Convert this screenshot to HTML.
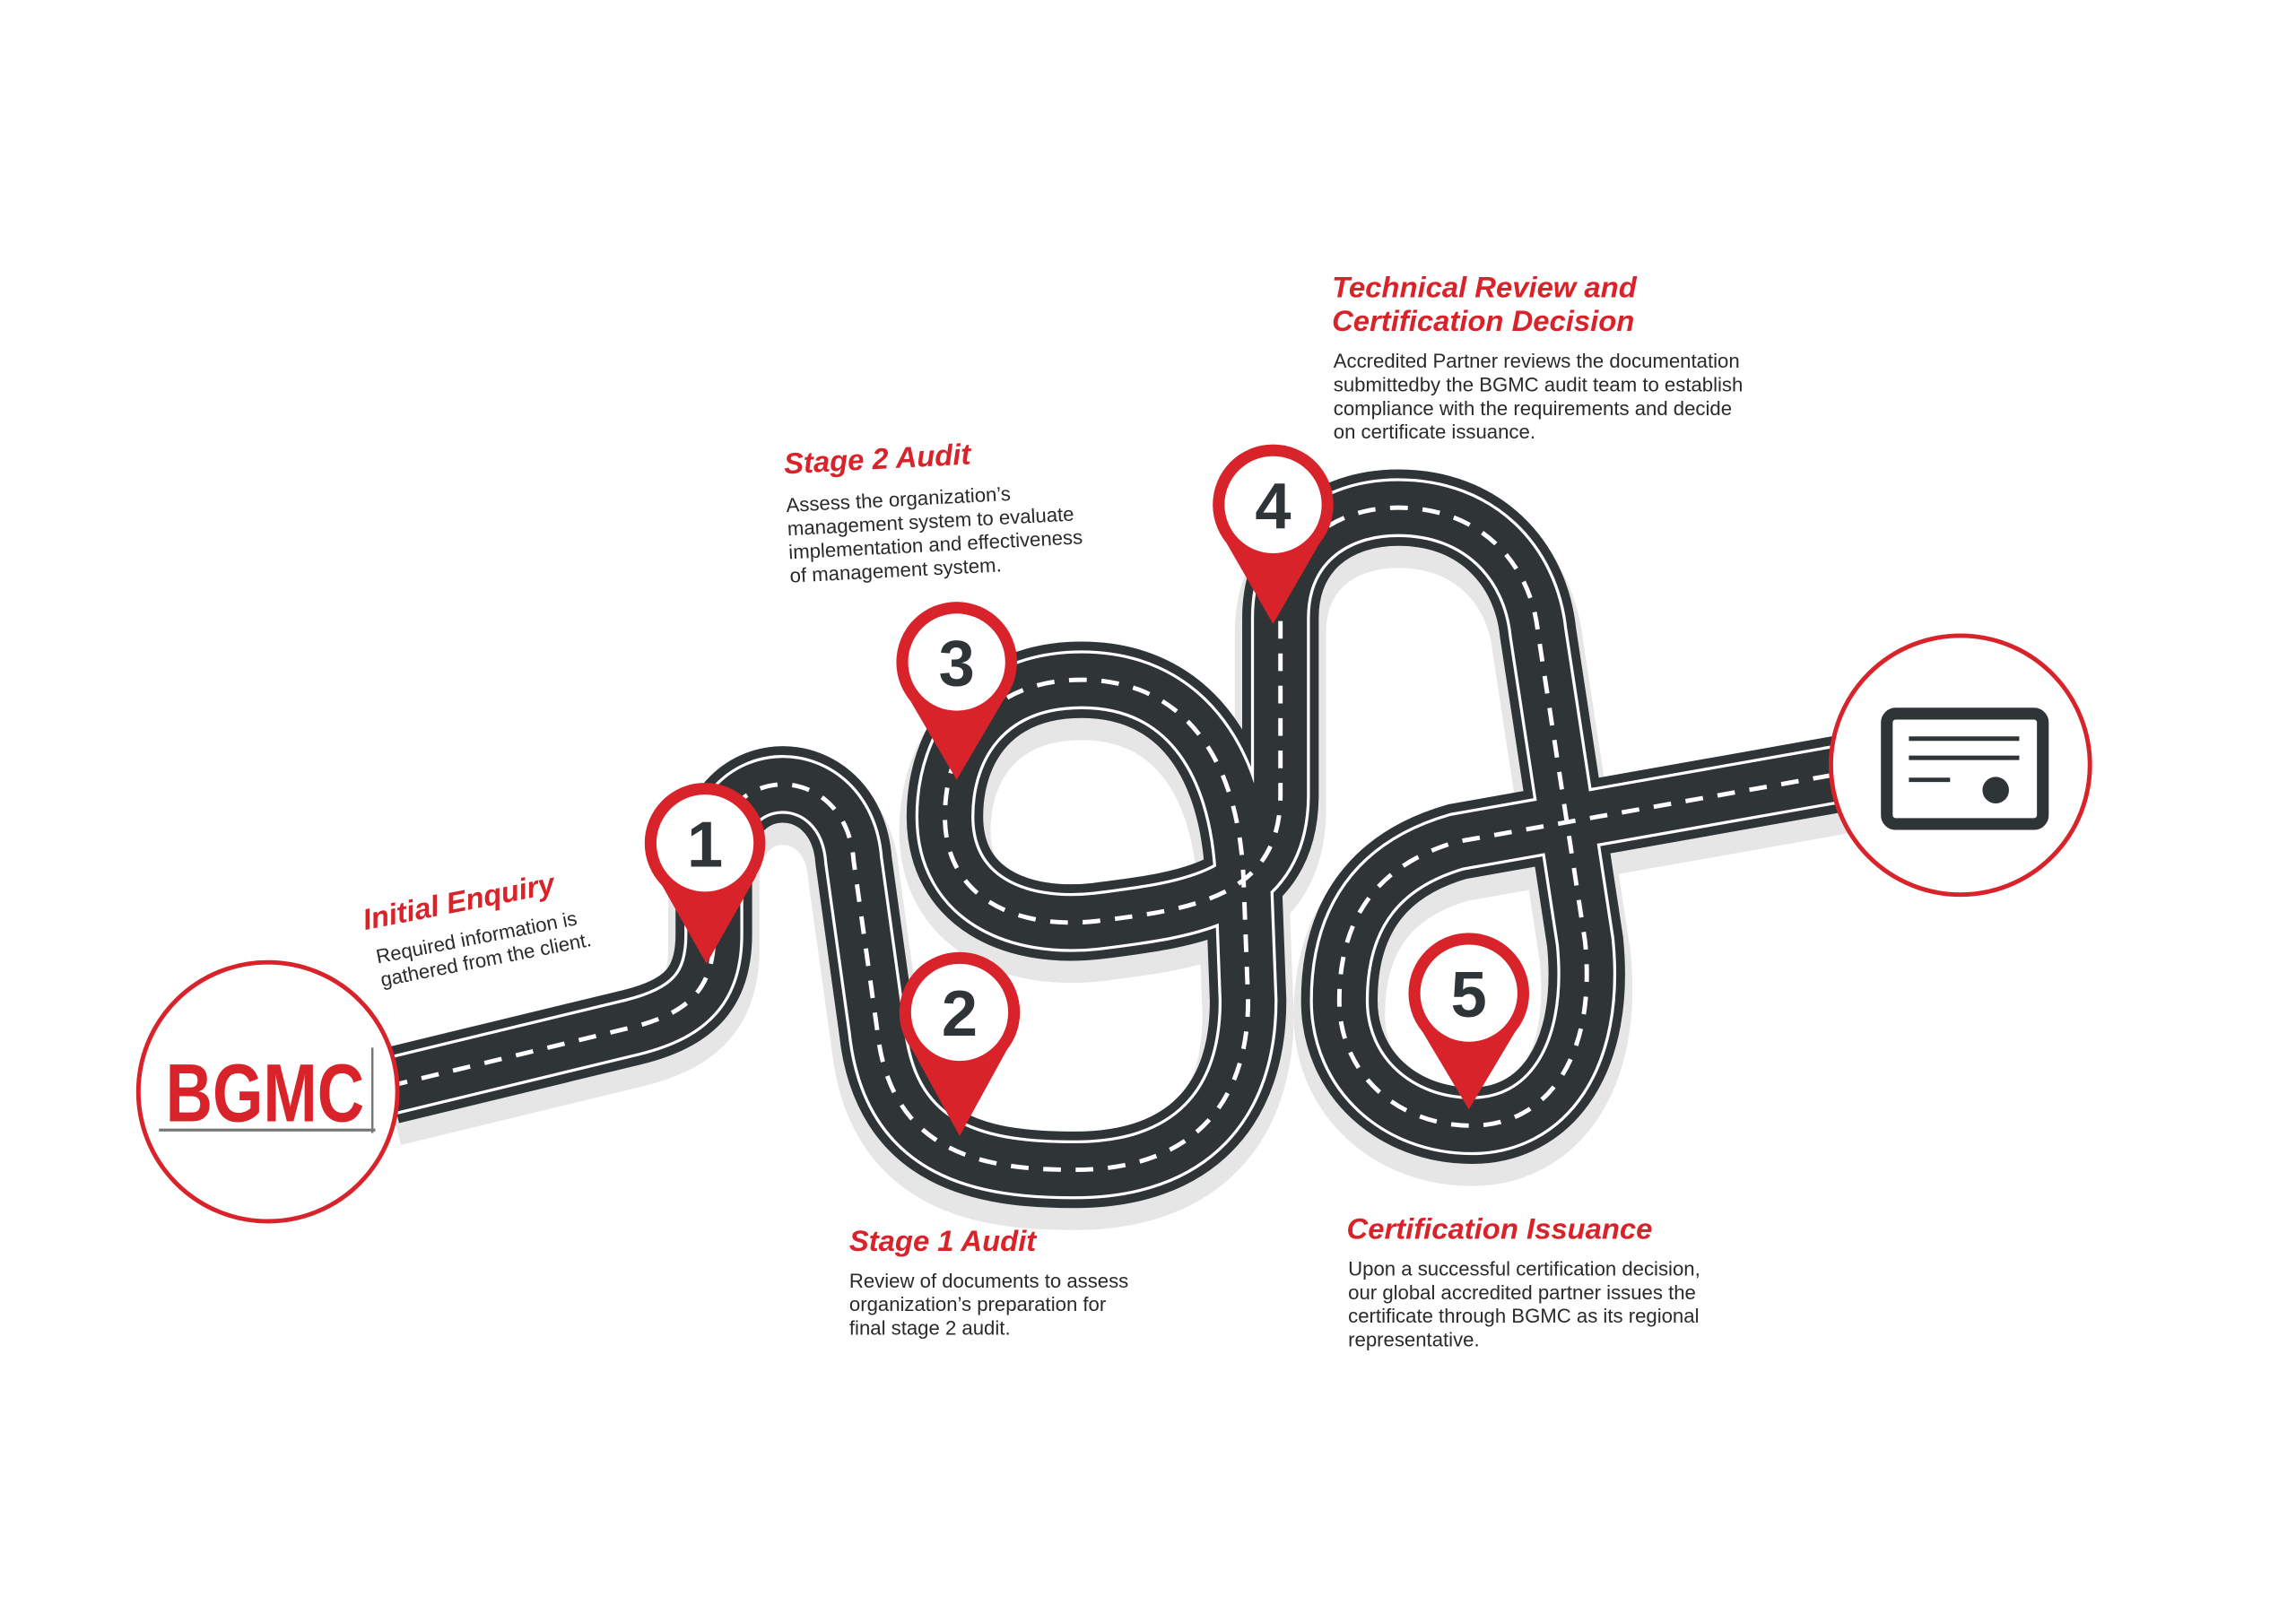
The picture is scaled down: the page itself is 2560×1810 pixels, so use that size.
<!DOCTYPE html>
<html><head><meta charset="utf-8"><style>
html,body{margin:0;padding:0;background:#fff;}
svg{display:block}
text{font-family:"Liberation Sans",sans-serif;}
.h{fill:#d8232a;font-weight:bold;font-style:italic;font-size:20px}
.b{fill:#2a2a2a;font-size:13.5px}
.n{fill:#2f3437;font-weight:bold;font-size:44px;text-anchor:middle}
</style></head><body>
<svg width="2560" height="1810" viewBox="0 0 1560 1103" xmlns="http://www.w3.org/2000/svg">
<rect width="1560" height="1103" fill="#fff"/>
<defs>
<path id="road" d="M 265 738 L 430 698 C 470 688 485 670 485 635 L 485 590 C 485 515 575 515 580 585 L 596 700 C 605 785 670 795 730 795 C 810 795 848 750 848 680 L 845 600 C 842 510 800 462 735 462 C 672 462 642 505 642 555 C 642 610 690 632 745 626 C 810 618 870 610 870 540 L 870 420 C 870 372 905 345 950 345 C 1005 345 1040 382 1045 430 L 1077 640 C 1085 720 1050 765 1000 765 C 950 765 910 730 910 680 C 910 615 945 585 990 572 L 1255 525"/>
</defs>
<use href="#road" fill="none" stroke="#e6e6e6" stroke-width="62" transform="translate(0,10)" stroke-linejoin="round"/>
<use href="#road" fill="none" stroke="#2f3437" stroke-width="52"/>
<use href="#road" fill="none" stroke="#fff" stroke-width="40"/>
<use href="#road" fill="none" stroke="#2f3437" stroke-width="36"/>
<use href="#road" fill="none" stroke="#fff" stroke-width="3" stroke-dasharray="12 10"/>

<!-- BGMC circle -->
<circle cx="182" cy="742" r="88" fill="#fff" stroke="#d8232a" stroke-width="3"/>
<text x="180" y="762" fill="#d8232a" font-weight="bold" font-size="56" text-anchor="middle" font-family="Liberation Sans Narrow, Liberation Sans, sans-serif" textLength="135" lengthAdjust="spacingAndGlyphs">BGMC</text>
<line x1="108" y1="768" x2="255" y2="768" stroke="#777" stroke-width="2"/>
<line x1="253" y1="712" x2="253" y2="770" stroke="#777" stroke-width="1.5"/>

<!-- certificate circle -->
<circle cx="1332" cy="520" r="88" fill="#fff" stroke="#d8232a" stroke-width="3"/>
<rect x="1282" y="485" width="106" height="75" rx="6" fill="#fff" stroke="#2f3437" stroke-width="8"/>
<line x1="1297" y1="502" x2="1372" y2="502" stroke="#2f3437" stroke-width="3"/>
<line x1="1297" y1="515" x2="1372" y2="515" stroke="#2f3437" stroke-width="3"/>
<line x1="1297" y1="530" x2="1325" y2="530" stroke="#2f3437" stroke-width="3"/>
<circle cx="1356" cy="537" r="9" fill="#2f3437"/>

<!-- pins -->
<g>
<path d="M 446 595 L 480 655 L 514 595 Z" fill="#d8232a"/>
<circle cx="479" cy="573" r="41" fill="#d8232a"/><circle cx="479" cy="573" r="33" fill="#fff"/>
<text class="n" x="479" y="589">1</text>
<path d="M 618 710 L 652 772 L 686 710 Z" fill="#d8232a"/>
<circle cx="652" cy="688" r="41" fill="#d8232a"/><circle cx="652" cy="688" r="33" fill="#fff"/>
<text class="n" x="652" y="704">2</text>
<path d="M 616 472 L 650 530 L 684 472 Z" fill="#d8232a"/>
<circle cx="650" cy="450" r="41" fill="#d8232a"/><circle cx="650" cy="450" r="33" fill="#fff"/>
<text class="n" x="650" y="466">3</text>
<path d="M 831 365 L 865 424 L 899 365 Z" fill="#d8232a"/>
<circle cx="865" cy="343" r="41" fill="#d8232a"/><circle cx="865" cy="343" r="33" fill="#fff"/>
<text class="n" x="865" y="359">4</text>
<path d="M 964 697 L 998 754 L 1032 697 Z" fill="#d8232a"/>
<circle cx="998" cy="675" r="41" fill="#d8232a"/><circle cx="998" cy="675" r="33" fill="#fff"/>
<text class="n" x="998" y="691">5</text>
</g>

<!-- texts -->
<g transform="rotate(-11 248 632)">
<text class="h" x="248" y="632">Initial Enquiry</text>
<text class="b" x="252" y="656">Required information is</text>
<text class="b" x="252" y="672">gathered from the client.</text>
</g>
<g transform="rotate(-3 533 322)">
<text class="h" x="533" y="322">Stage 2 Audit</text>
<text class="b" x="533" y="348">Assess the organization’s</text>
<text class="b" x="533" y="364">management system to evaluate</text>
<text class="b" x="533" y="380"> implementation and effectiveness</text>
<text class="b" x="533" y="396">of management system.</text>
</g>
<text class="h" x="905" y="202">Technical Review and</text>
<text class="h" x="905" y="225">Certification Decision</text>
<text class="b" x="906" y="250">Accredited Partner reviews the documentation</text>
<text class="b" x="906" y="266">submittedby the BGMC audit team to establish</text>
<text class="b" x="906" y="282">compliance with the requirements and decide</text>
<text class="b" x="906" y="298">on certificate issuance.</text>
<text class="h" x="577" y="850">Stage 1 Audit</text>
<text class="b" x="577" y="875">Review of documents to assess</text>
<text class="b" x="577" y="891">organization’s preparation for</text>
<text class="b" x="577" y="907">final stage 2 audit.</text>
<text class="h" x="915" y="842">Certification Issuance</text>
<text class="b" x="916" y="867">Upon a successful certification decision,</text>
<text class="b" x="916" y="883">our global accredited partner issues the</text>
<text class="b" x="916" y="899">certificate through BGMC as its regional</text>
<text class="b" x="916" y="915">representative.</text>
</svg>
</body></html>
